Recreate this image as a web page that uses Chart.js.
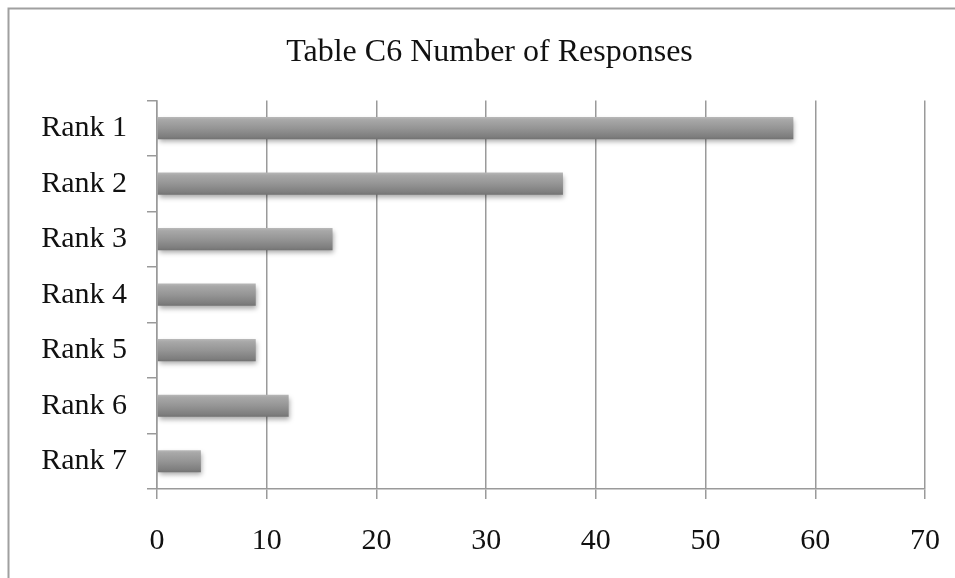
<!DOCTYPE html>
<html>
<head>
<meta charset="utf-8">
<script src="https://cdn.jsdelivr.net/npm/chart.js@4/dist/chart.umd.min.js"></script>
<style>
  html, body { margin: 0; padding: 0; background: #fff; }
  #wrap { width: 955px; height: 578px; position: relative; }
</style>
</head>
<body>
<div id="wrap"><canvas id="chart" width="955" height="578"></canvas></div>
<script>
// Survey results: number of responses per rank
const categories = ['Rank 1', 'Rank 2', 'Rank 3', 'Rank 4', 'Rank 5', 'Rank 6', 'Rank 7'];
const responses = [58, 37, 16, 9, 9, 12, 4];
const titleText = 'Table C6 Number of Responses';
const xMin = 0;
const xMax = 70;
const xStep = 10;

const serif = '"Liberation Serif", "Times New Roman", serif';
const gridColor = '#9a9a9a';
const barShare = 0.4;
const padLeft = 20;
const padRight = 30;
const titleShift = 17;

// Outer frame (left and top edges of the chart box)
const framePlugin = {
  id: 'frame',
  beforeDraw(chart) {
    const ctx = chart.ctx;
    ctx.save();
    ctx.fillStyle = '#fff';
    ctx.fillRect(0, 0, chart.width, chart.height);
    ctx.strokeStyle = '#a0a0a0';
    ctx.lineWidth = 2;
    ctx.beginPath();
    ctx.moveTo(8.5, chart.height);
    ctx.lineTo(8.5, 8.5);
    ctx.lineTo(chart.width, 8.5);
    ctx.stroke();
    ctx.restore();
  }
};

// Nudge the title block a little to the right of the full-width centre
const titleNudge = {
  id: 'titleNudge',
  afterLayout(chart) {
    const t = chart.titleBlock;
    if (t) {
      t.left += titleShift;
      t.right += titleShift;
    }
  }
};

// Soft drop shadow under the bars
const shadowPlugin = {
  id: 'barShadow',
  beforeDatasetsDraw(chart) {
    const ctx = chart.ctx;
    ctx.save();
    ctx.shadowColor = 'rgba(0,0,0,0.35)';
    ctx.shadowBlur = 5;
    ctx.shadowOffsetX = 1;
    ctx.shadowOffsetY = 3;
  },
  afterDatasetsDraw(chart) {
    chart.ctx.restore();
  }
};

// Cylinder-like vertical shading for each bar
function barGradient(context) {
  const chart = context.chart;
  const yScale = chart.scales && chart.scales.y;
  if (!yScale || context.type !== 'data') return '#959595';
  const cy = yScale.getPixelForValue(context.dataIndex);
  const h = (yScale.height / categories.length) * barShare;
  if (!isFinite(cy) || !isFinite(h) || h <= 0) return '#959595';
  const g = chart.ctx.createLinearGradient(0, cy - h / 2, 0, cy + h / 2);
  g.addColorStop(0, '#b8b8b8');
  g.addColorStop(0.12, '#a8a8a8');
  g.addColorStop(0.5, '#959595');
  g.addColorStop(0.88, '#7e7e7e');
  g.addColorStop(1, '#727272');
  return g;
}

new Chart(document.getElementById('chart'), {
  type: 'bar',
  data: {
    labels: categories,
    datasets: [{
      data: responses,
      backgroundColor: barGradient,
      borderWidth: 0,
      barPercentage: barShare,
      categoryPercentage: 1.0
    }]
  },
  options: {
    indexAxis: 'y',
    responsive: false,
    animation: false,
    devicePixelRatio: 1,
    layout: { padding: { top: 0, left: padLeft, right: padRight, bottom: 0 } },
    plugins: {
      legend: { display: false },
      tooltip: { enabled: false },
      title: {
        display: true,
        text: titleText,
        color: '#111',
        font: { family: serif, size: 32, weight: 'normal' },
        padding: { top: 33, bottom: 29 }
      }
    },
    scales: {
      x: {
        type: 'linear',
        min: xMin,
        max: xMax,
        ticks: {
          stepSize: xStep,
          color: '#111',
          padding: 24,
          font: { family: serif, size: 30 }
        },
        grid: {
          color: gridColor,
          lineWidth: 1.5,
          drawTicks: true,
          tickLength: 10
        },
        border: { display: true, color: gridColor, width: 1.5 },
        afterFit(scale) {
          scale.height = 89;
          scale.paddingLeft = 0;
          scale.paddingRight = 0;
        }
      },
      y: {
        type: 'category',
        offset: true,
        ticks: {
          color: '#111',
          padding: 20,
          font: { family: serif, size: 30 }
        },
        grid: {
          offset: true,
          drawOnChartArea: false,
          drawTicks: true,
          tickLength: 10,
          color: gridColor,
          lineWidth: 1.5
        },
        border: { display: true, color: gridColor, width: 1.5 },
        afterFit(scale) { scale.width = 157 - padLeft; }
      }
    }
  },
  plugins: [framePlugin, titleNudge, shadowPlugin]
});
</script>
</body>
</html>
